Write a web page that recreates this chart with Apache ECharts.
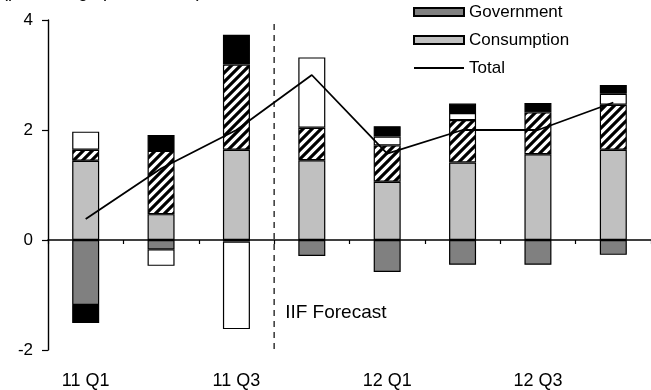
<!DOCTYPE html>
<html>
<head>
<meta charset="utf-8">
<script src="https://cdn.jsdelivr.net/npm/echarts@6/dist/echarts.min.js"></script>
<style>
  html, body { margin: 0; padding: 0; background: #fff; }
  #chart { width: 651px; height: 390px; }
</style>
</head>
<body>
<div id="chart"></div>
<script>
// Contributions to real GDP growth by quarter, percentage points
const categories  = ['11 Q1', '11 Q2', '11 Q3', '11 Q4', '12 Q1', '12 Q2', '12 Q3', '12 Q4'];
const government  = [-1.18, -0.17, -0.03, -0.29, -0.58, -0.45, -0.45, -0.27];
const consumption = [1.44, 0.47, 1.64, 1.45, 1.06, 1.41, 1.56, 1.64];
const investment  = [0.20, 1.15, 1.55, 0.59, 0.66, 0.77, 0.76, 0.82];
const netExports  = [0.33, -0.30, -1.59, 1.28, 0.16, 0.13, '-', 0.20];
const inventories = [-0.33, 0.29, 0.54, '-', 0.19, 0.17, 0.17, 0.16];
const total       = [0.38, 1.30, 2.00, 3.00, 1.57, 2.00, 2.00, 2.50];
const yTicks      = { min: -2, max: 4, interval: 2 };

const FONT = '"Liberation Sans", Arial, Helvetica, sans-serif';

// diagonal hatch used for the investment component
function hatchPattern() {
  const s = 9;
  const c = document.createElement('canvas');
  c.width = s; c.height = s;
  const g = c.getContext('2d');
  g.fillStyle = '#fff';
  g.fillRect(0, 0, s, s);
  g.strokeStyle = '#000';
  g.lineWidth = 3.2;
  g.beginPath();
  g.moveTo(-2, s + 2); g.lineTo(s + 2, -2);
  g.moveTo(-2, 2); g.lineTo(2, -2);
  g.moveTo(s - 2, s + 2); g.lineTo(s + 2, s - 2);
  g.stroke();
  return c;
}

const chart = echarts.init(document.getElementById('chart'), null, { renderer: 'canvas' });

const barBase = {
  type: 'bar',
  stack: 'gdp',
  barWidth: 27,
  xAxisIndex: 0,
  yAxisIndex: 0,
  animation: false
};
const edge = { borderColor: '#000', borderWidth: 1.2 };

chart.setOption({
  animation: false,
  textStyle: { fontFamily: FONT },
  grid: { left: 48, top: 20, width: 608, height: 330, containLabel: false },
  legend: {
    orient: 'vertical',
    left: 413,
    top: 2,
    padding: 0,
    itemWidth: 50,
    itemHeight: 8,
    itemGap: 8,
    textStyle: { fontSize: 17, color: '#000', fontFamily: FONT, lineHeight: 20 },
    data: [
      { name: 'Government', icon: 'rect' },
      { name: 'Consumption', icon: 'rect' },
      { name: 'Total', itemStyle: { opacity: 0 } }
    ]
  },
  xAxis: [
    {
      type: 'category',
      data: categories,
      position: 'bottom',
      axisLine: { onZero: true, lineStyle: { color: '#000', width: 1.6 } },
      axisTick: { show: true, inside: false, length: 4, lineStyle: { color: '#000', width: 1.2 } },
      axisLabel: { show: false },
      splitLine: { show: false }
    },
    {
      type: 'category',
      data: categories,
      position: 'bottom',
      axisLine: { show: false, onZero: false },
      axisTick: { show: false },
      axisLabel: { show: true, interval: 1, margin: 22, fontSize: 18, color: '#000', fontFamily: FONT },
      splitLine: { show: false }
    }
  ],
  yAxis: {
    type: 'value',
    min: yTicks.min,
    max: yTicks.max,
    interval: yTicks.interval,
    axisLine: { show: true, lineStyle: { color: '#000', width: 1.4 } },
    axisTick: { show: true, inside: false, length: 6, lineStyle: { color: '#000', width: 1.2 } },
    axisLabel: { margin: 15, fontSize: 17, color: '#000', fontFamily: FONT },
    splitLine: { show: false }
  },
  series: [
    Object.assign({}, barBase, { name: 'Government', data: government,
      itemStyle: Object.assign({ color: '#808080' }, edge) }),
    Object.assign({}, barBase, { name: 'Consumption', data: consumption,
      itemStyle: Object.assign({ color: '#c0c0c0' }, edge) }),
    Object.assign({}, barBase, { name: 'Investment', data: investment,
      itemStyle: Object.assign({ color: { image: hatchPattern(), repeat: 'repeat' } }, edge) }),
    Object.assign({}, barBase, { name: 'Net exports', data: netExports,
      itemStyle: Object.assign({ color: '#ffffff' }, edge) }),
    Object.assign({}, barBase, { name: 'Inventories', data: inventories,
      itemStyle: Object.assign({ color: '#000000' }, edge) }),
    {
      type: 'line',
      name: 'Total',
      data: total,
      xAxisIndex: 0,
      yAxisIndex: 0,
      symbol: 'none',
      z: 5,
      lineStyle: { color: '#000', width: 1.8 },
      itemStyle: { color: '#000' }
    }
  ]
});

// forecast divider between 11 Q3 and 11 Q4, plus the clipped heading line
const xA = chart.convertToPixel({ xAxisIndex: 0 }, categories[2]);
const xB = chart.convertToPixel({ xAxisIndex: 0 }, categories[3]);
const xDiv = (xA + xB) / 2;
const yTop = chart.convertToPixel({ yAxisIndex: 0 }, yTicks.max) + 4;
const yBot = chart.convertToPixel({ yAxisIndex: 0 }, yTicks.min) + 4;
const yLabel = chart.convertToPixel({ yAxisIndex: 0 }, -1.33);

chart.setOption({
  graphic: [
    {
      type: 'line',
      shape: { x1: xDiv, y1: yTop, x2: xDiv, y2: yBot },
      style: { stroke: '#000', lineWidth: 1.2, lineDash: [6, 5] },
      z: 10
    },
    {
      type: 'text',
      x: xDiv + 11,
      y: yLabel,
      style: { text: 'IIF Forecast', fontSize: 19, fontFamily: FONT, fill: '#000', verticalAlign: 'middle', align: 'left' },
      z: 10
    },
    {
      type: 'text',
      x: 2,
      y: 1,
      style: { text: '(percentage points, saar)', fontSize: 18, fontFamily: FONT, fill: '#000', verticalAlign: 'bottom', align: 'left' },
      z: 10
    }
  ]
});
</script>
</body>
</html>
